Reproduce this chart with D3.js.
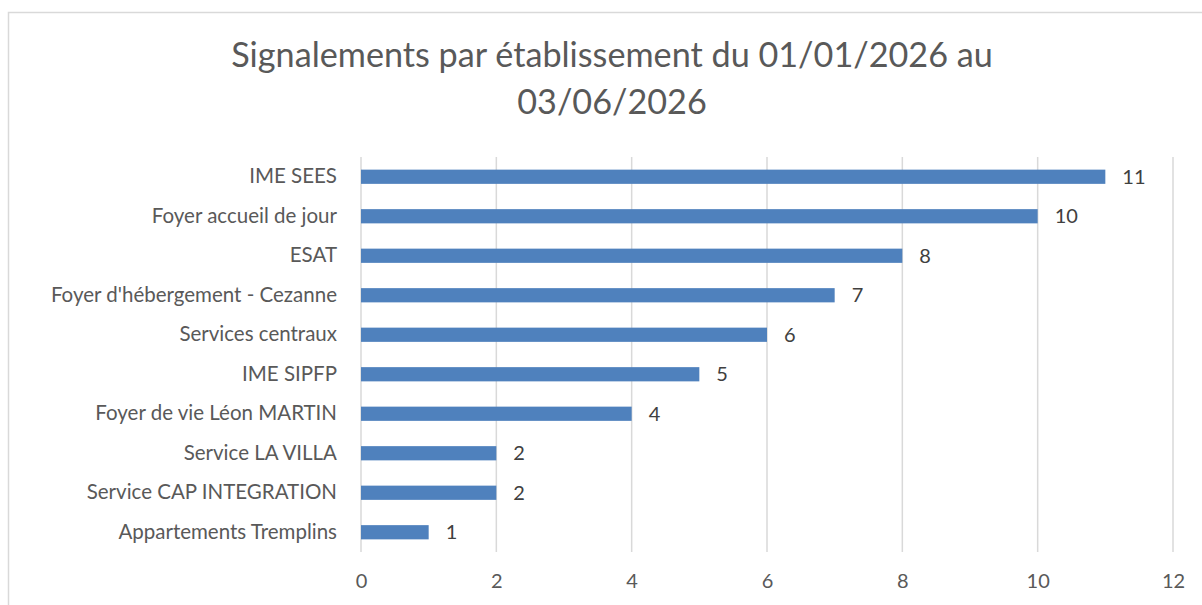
<!DOCTYPE html>
<html>
<head>
<meta charset="utf-8">
<script src="https://cdn.jsdelivr.net/npm/d3@7"></script>
<style>
  html, body { margin: 0; padding: 0; background: #fff; }
  svg { display: block; font-family: Lato, "Open Sans", sans-serif; }
</style>
</head>
<body>
<svg id="chart" width="1202" height="605"></svg>
<script>
// data
const categories = ["IME SEES", "Foyer accueil de jour", "ESAT", "Foyer d'hébergement - Cezanne",
  "Services centraux", "IME SIPFP", "Foyer de vie Léon MARTIN", "Service LA VILLA",
  "Service CAP INTEGRATION", "Appartements Tremplins"];
const counts = [11, 10, 8, 7, 6, 5, 4, 2, 2, 1];
const xTicks = [0, 2, 4, 6, 8, 10, 12];
const titleLines = ["Signalements par établissement du 01/01/2026 au", "03/06/2026"];

const svg = d3.select("#chart");
const plot = { left: 361, right: 1173, top: 157, bottom: 552 };
const rows = categories.map((c, i) => ({ name: c, value: counts[i] }));

// outer frame
svg.append("rect").attr("x", 8.5).attr("y", 12.5).attr("width", 1250).attr("height", 650)
  .attr("fill", "none").attr("stroke", "#d9d9d9").attr("stroke-width", 1.5);

svg.selectAll("text.title").data(titleLines).join("text").attr("class", "title")
  .attr("x", 612).attr("y", (d, i) => 67 + i * 47).attr("text-anchor", "middle")
  .attr("font-size", 34.2).attr("fill", "#595959").text(d => d);

const x = d3.scaleLinear().domain([0, 12]).range([plot.left, plot.right]);
const y = d3.scaleBand().domain(categories).range([plot.top, plot.bottom]);
const barH = y.bandwidth() * 0.36;

// vertical gridlines
svg.append("g").selectAll("line").data(xTicks).join("line")
  .attr("x1", d => x(d)).attr("x2", d => x(d)).attr("y1", plot.top).attr("y2", plot.bottom)
  .attr("stroke", "#d9d9d9").attr("stroke-width", 1.5);

svg.append("g").attr("transform", `translate(0,${plot.bottom})`)
  .call(d3.axisBottom(x).tickValues(xTicks).tickSize(0).tickPadding(22))
  .call(g => g.select(".domain").remove())
  .attr("font-family", null).attr("font-size", null)
  .selectAll("text").attr("font-size", 20).attr("fill", "#595959");

svg.append("g").attr("transform", `translate(${plot.left},0)`)
  .call(d3.axisLeft(y).tickSize(0).tickPadding(24))
  .call(g => g.select(".domain").remove())
  .attr("font-family", null).attr("font-size", null)
  .selectAll("text").attr("font-size", 20.5).attr("fill", "#595959");

svg.append("g").selectAll("rect").data(rows).join("rect")
  .attr("x", x(0)).attr("y", d => y(d.name) + (y.bandwidth() - barH) / 2)
  .attr("width", d => x(d.value) - x(0)).attr("height", barH)
  .attr("fill", "#4f81bd");

svg.append("g").selectAll("text").data(rows).join("text")
  .attr("x", d => x(d.value) + 17).attr("y", d => y(d.name) + y.bandwidth() / 2)
  .attr("dy", "0.35em").attr("font-size", 20).attr("fill", "#404040")
  .text(d => d.value);
</script>
</body>
</html>
